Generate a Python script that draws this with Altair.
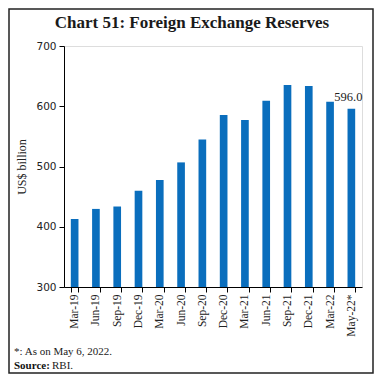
import altair as alt
import pandas as pd

categories = ["Mar-19", "Jun-19", "Sep-19", "Dec-19", "Mar-20", "Jun-20", "Sep-20",
              "Dec-20", "Mar-21", "Jun-21", "Sep-21", "Dec-21", "Mar-22", "May-22*"]
values = [412.9, 429.6, 433.6, 459.9, 477.8, 506.8, 544.7,
          585.3, 577.0, 609.0, 635.4, 633.6, 607.3, 596.0]
label_text = ["", "", "", "", "", "", "", "", "", "", "", "", "", "596.0"]

df = pd.DataFrame({"period": categories, "value": values, "label": label_text})

W, H = 298, 241
SERIF = "Liberation Serif"
SANS = "DejaVu Sans"
BAR = "#0a6ebd"

x_enc = alt.X("period:N", sort=categories, title=None,
              scale=alt.Scale(paddingInner=0.64, paddingOuter=0.32),
              axis=alt.Axis(labelAngle=-90, labelFont=SERIF, labelFontSize=11.5,
                            labelColor="#222", tickBand="extent", tickSize=5,
                            tickColor="#000", domainColor="#000", labelPadding=2,
                            labelBaseline="middle", labelAlign="right"))
y_enc = alt.Y("value:Q", title="US$ billion",
              scale=alt.Scale(domain=[300, 700], zero=False, nice=False),
              axis=alt.Axis(values=[300, 400, 500, 600, 700], grid=False,
                            labelFont=SANS, labelFontSize=10.5, labelColor="#222",
                            tickSize=5, tickColor="#000", domainColor="#000",
                            titleFont=SERIF, titleFontSize=12, titleFontWeight="normal",
                            titleColor="#222", titlePadding=7, labelPadding=3))

bars = alt.Chart(df).mark_bar(color=BAR).encode(
    x=x_enc, y=y_enc, y2=alt.datum(300)
)

labels = alt.Chart(df).mark_text(font=SERIF, fontSize=12.5, color="#222",
                                 baseline="bottom", dy=-5, dx=-3).encode(
    x=alt.X("period:N", sort=categories),
    y="value:Q",
    text="label:N",
)

notes = pd.DataFrame({"t": ["Chart 51: Foreign Exchange Reserves"]})
title = alt.Chart(notes).mark_text(font=SERIF, fontSize=17, fontWeight="bold",
                                   color="#1a1a1a", align="center", baseline="middle").encode(
    x=alt.value(128), y=alt.value(-23), text="t:N")

fn1 = alt.Chart(pd.DataFrame({"t": ["*: As on May 6, 2022."]})).mark_text(
    font=SERIF, fontSize=11, color="#222", align="left", baseline="middle").encode(
    x=alt.value(-50), y=alt.value(306), text="t:N")
fn2 = alt.Chart(pd.DataFrame({"t": ["Source:"]})).mark_text(
    font=SERIF, fontSize=11, fontWeight="bold", color="#111", align="left", baseline="middle").encode(
    x=alt.value(-50), y=alt.value(320), text="t:N")
fn3 = alt.Chart(pd.DataFrame({"t": ["RBI."]})).mark_text(
    font=SERIF, fontSize=11, color="#222", align="left", baseline="middle").encode(
    x=alt.value(-12), y=alt.value(320), text="t:N")

frame = alt.Chart(pd.DataFrame({"t": [0]})).mark_rect(
    fill=None, stroke="#222", strokeWidth=1.5).encode(
    x=alt.value(-55), x2=alt.value(W + 11), y=alt.value(-37), y2=alt.value(H + 86))

chart = alt.layer(bars, labels, title, fn1, fn2, fn3, frame).properties(
    width=W, height=H,
    autosize=alt.AutoSizeParams(type="none"),
    padding={"left": 56, "top": 38, "right": 12, "bottom": 87},
).configure_view(stroke=None).configure(background="white")

chart.save("out.html", embed_options={"renderer": "svg", "actions": False})
